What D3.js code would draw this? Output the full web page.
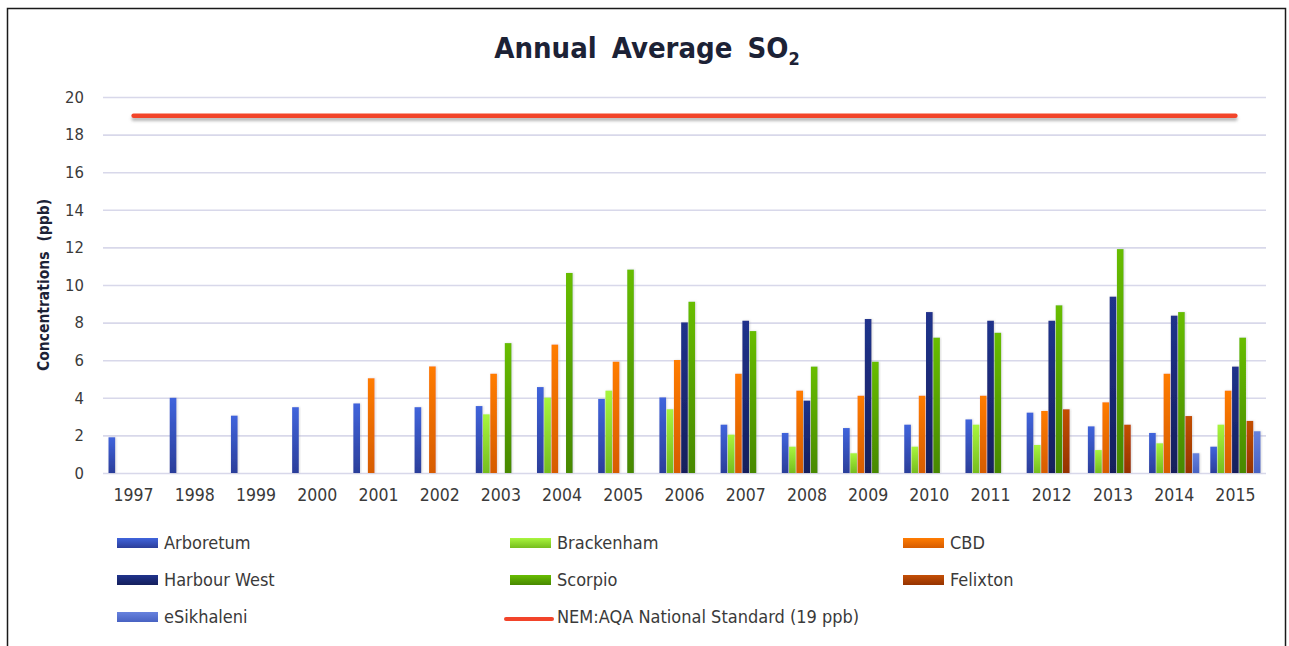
<!DOCTYPE html>
<html lang="en">
	<head>
		<meta charset="utf-8">
		<title>annual average so2</title>
		<script type="text/javascript" src="https://cdn.jsdelivr.net/npm/d3@7"></script>
		<style type="text/css">
			body{margin:0;background:#fff;}
			text{font-family:"DejaVu Sans Condensed","DejaVu Sans",sans-serif;}
		</style>
	</head>
	<body>
		<div id="chart"></div>
		<script type="text/javascript">

// years on the x axis
var years = ["1997","1998","1999","2000","2001","2002","2003","2004","2005","2006","2007","2008","2009","2010","2011","2012","2013","2014","2015"]

// station values in ppb, null = no data that year
var arboretum   = [1.9,4.0,3.05,3.5,3.7,3.5,3.56,4.57,3.94,4.02,2.57,2.13,2.39,2.57,2.85,3.21,2.48,2.13,1.4]
var brackenham  = [null,null,null,null,null,null,3.12,4.01,4.38,3.39,2.04,1.4,1.05,1.4,2.57,1.49,1.22,1.58,2.57]
var cbd         = [null,null,null,null,5.04,5.67,5.28,6.83,5.92,6.01,5.28,4.38,4.11,4.11,4.11,3.3,3.76,5.28,4.38]
var harbourWest = [null,null,null,null,null,null,null,null,null,8.01,8.1,3.85,8.19,8.56,8.1,8.1,9.38,8.37,5.66]
var scorpio     = [null,null,null,null,null,null,6.91,10.64,10.82,9.11,7.55,5.66,5.92,7.2,7.46,8.92,11.91,8.56,7.2]
var felixton    = [null,null,null,null,null,null,null,null,null,null,null,null,null,null,null,3.39,2.57,3.03,2.77]
var eSikhaleni  = [null,null,null,null,null,null,null,null,null,null,null,null,null,null,null,null,null,1.05,2.22]

var seriesNames = ["Arboretum","Brackenham","CBD","Harbour West","Scorpio","Felixton","eSikhaleni"]
var seriesValues = [arboretum,brackenham,cbd,harbourWest,scorpio,felixton,eSikhaleni]
// top / bottom colour of each bar gradient
var colorsTop    = ["#4064dc","#a8f53e","#ff7c02","#20338c","#68bd02","#c44f06","#6782de"]
var colorsBottom = ["#2b3e9a","#76bd1e","#d65c00","#141f5c","#478800","#953300","#4862c2"]

var standardValue = 19
var standardLabel = "NEM:AQA National Standard (19 ppb)"
var yTicks = [0,2,4,6,8,10,12,14,16,18,20]

var w = 1289
var h = 646
// "top" is taken by window.top, so plot edges get their own names
var plotLeft = 103, plotRight = 1266, plotTop = 97, plotBottom = 473

var svg = d3.select("#chart").append("svg")
	.attr("width",w)
	.attr("height",h)

var defs = svg.append("defs")
for(var s in seriesNames){
	var g = defs.append("linearGradient")
		.attr("id","grad"+s)
		.attr("x1",0).attr("y1",0).attr("x2",0).attr("y2",1)
	g.append("stop").attr("offset","0%").attr("stop-color",colorsTop[s])
	g.append("stop").attr("offset","100%").attr("stop-color",colorsBottom[s])
}
// horizontal line has a zero-height bbox, so the filter region is given in user space
var shadow = defs.append("filter").attr("id","shadow")
	.attr("filterUnits","userSpaceOnUse")
	.attr("x",0).attr("y",0).attr("width",w).attr("height",h)
shadow.append("feDropShadow").attr("dx",0).attr("dy",3).attr("stdDeviation",1.5)
	.attr("flood-color","#888").attr("flood-opacity",0.6)
var barShadow = defs.append("filter").attr("id","barShadow")
	.attr("x","-30%").attr("y","-5%").attr("width","160%").attr("height","110%")
barShadow.append("feDropShadow").attr("dx",1).attr("dy",0).attr("stdDeviation",0.8)
	.attr("flood-color","#999").attr("flood-opacity",0.35)

// frame
svg.append("rect")
	.attr("x",7.5).attr("y",8.5)
	.attr("width",1278).attr("height",700)
	.attr("fill","#fff")
	.attr("stroke","#1a1a1a")
	.attr("stroke-width",1.5)

var xScale = d3.scaleBand().domain(years).range([plotLeft,plotRight])
	.paddingInner(0.17).paddingOuter(0.085)
var x1 = d3.scaleBand().domain(d3.range(seriesNames.length)).range([0,xScale.bandwidth()])
var yScale = d3.scaleLinear().domain([0,20]).range([plotBottom,plotTop])

// gridlines + y labels
var yAxis = d3.axisLeft(yScale).tickValues(yTicks).tickSize(-(plotRight-plotLeft)).tickPadding(19)
var yg = svg.append("g").attr("transform","translate("+plotLeft+",0)").call(yAxis)
yg.select(".domain").remove()
yg.selectAll("line").attr("stroke","#d8d8ea").attr("stroke-width",1.6)
yg.selectAll("text").attr("fill","#3a3a3a").attr("font-size",16.5)

var xAxis = d3.axisBottom(xScale).tickSize(0).tickPadding(16)
var xg = svg.append("g").attr("transform","translate(0,"+plotBottom+")").call(xAxis)
xg.select(".domain").remove()
xg.selectAll("text").attr("fill","#3a3a3a").attr("font-size",17.5)

// bars
var bars = []
for(var s in seriesValues){
	for(var i in years){
		if(seriesValues[s][i]!=null){
			bars.push({series:+s,year:years[i],value:seriesValues[s][i]})
		}
	}
}
svg.append("g").selectAll("rect")
	.data(bars)
	.enter()
	.append("rect")
	.attr("x",function(d){return xScale(d.year)+x1(d.series)+0.3})
	.attr("width",x1.bandwidth()-0.6)
	.attr("y",function(d){return yScale(d.value)})
	.attr("height",function(d){return yScale(0)-yScale(d.value)})
	.attr("fill",function(d){return "url(#grad"+d.series+")"})
	.attr("filter","url(#barShadow)")

// national standard line
var line = d3.line()
	.x(function(d){return xScale(d)+xScale.bandwidth()/2})
	.y(function(d){return yScale(standardValue)})
svg.append("path")
	.datum([years[0],years[years.length-1]])
	.attr("d",line)
	.attr("fill","none")
	.attr("stroke","#f2442a")
	.attr("stroke-width",4.5)
	.attr("stroke-linecap","round")
	.attr("filter","url(#shadow)")

// title
var title = svg.append("text")
	.attr("x",647).attr("y",58)
	.attr("text-anchor","middle")
	.attr("font-size",29)
	.attr("font-weight","bold")
	.attr("fill","#1c2236")
	.attr("word-spacing",6)
title.append("tspan").text("Annual Average SO")
title.append("tspan").text("2").attr("font-size",18).attr("dy",7)

// y title
svg.append("text")
	.attr("transform","translate(49,285) rotate(-90)")
	.attr("text-anchor","middle")
	.attr("font-size",15.5)
	.attr("font-weight","bold")
	.attr("fill","#1c2236")
	.attr("word-spacing",5)
	.text("Concentrations (ppb)")

// legend
var legendCols = [117,510,903]
var legendRows = [543,580,617]
var legendItems = seriesNames.map(function(n,i){return {name:n,type:"bar",idx:i}})
legendItems.push({name:standardLabel,type:"line"})
var lg = svg.append("g").selectAll("g")
	.data(legendItems)
	.enter()
	.append("g")
	.attr("transform",function(d,i){return "translate("+legendCols[i%3]+","+legendRows[Math.floor(i/3)]+")"})
lg.filter(function(d){return d.type=="bar"})
	.append("rect")
	.attr("x",0).attr("y",-5).attr("width",41).attr("height",10)
	.attr("fill",function(d){return "url(#grad"+d.idx+")"})
lg.filter(function(d){return d.type=="line"})
	.append("line")
	.attr("x1",-4).attr("x2",42).attr("y1",2).attr("y2",2)
	.attr("stroke","#f2442a").attr("stroke-width",4)
	.attr("stroke-linecap","round")
lg.append("text")
	.attr("x",47).attr("y",6)
	.attr("font-size",18)
	.attr("fill","#3a3a3a")
	.text(function(d){return d.name})

		</script>
	</body>
</html>
